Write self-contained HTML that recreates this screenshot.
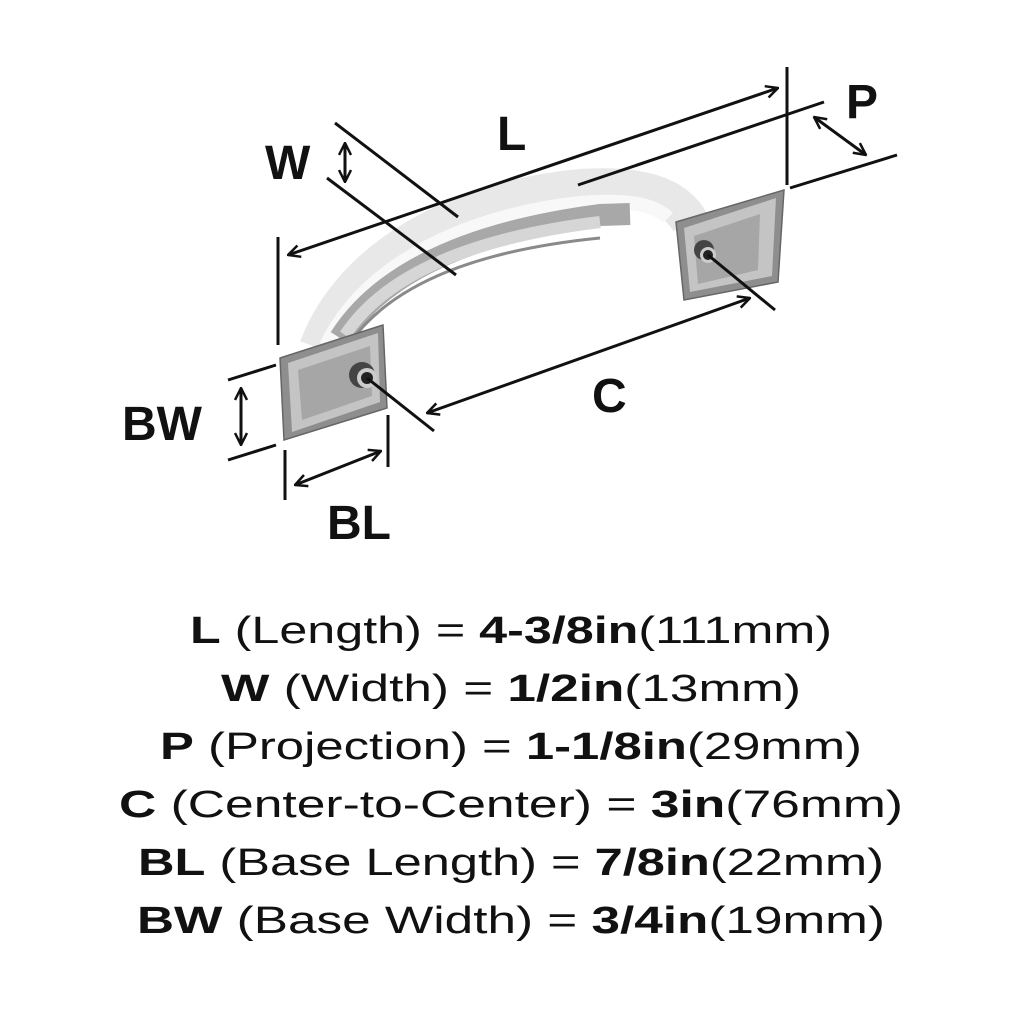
<!DOCTYPE html>
<html><head><style>
html,body{margin:0;padding:0;background:#fff;}
svg{display:block;}
text{font-family:"Liberation Sans",sans-serif;fill:#111;}
</style></head><body>
<svg width="1024" height="1024" viewBox="0 0 1024 1024">
<defs>
<marker id="a" viewBox="0 0 14 14" refX="13" refY="7" markerWidth="14" markerHeight="14" markerUnits="userSpaceOnUse" orient="auto-start-reverse">
<path d="M1,1 L13,7 L1,13" fill="none" stroke="#111" stroke-width="2.5"/>
</marker>
<linearGradient id="b" x1="0" y1="0" x2="1" y2="1">
<stop offset="0" stop-color="#8a8a8a"/><stop offset="1" stop-color="#b0b0b0"/>
</linearGradient>
</defs>
<!-- handle arc -->
<path d="M318,348 C355,250 470,198 580,188 C640,184 675,195 690,222" fill="none" stroke="#e8e8e8" stroke-width="38"/>
<path d="M326,346 C365,262 470,215 580,203 C630,199 655,205 668,218" fill="none" stroke="#f8f8f8" stroke-width="14"/>
<path d="M340,338 C382,272 470,232 600,215 L630,214" fill="none" stroke="#a8a8a8" stroke-width="22"/>
<path d="M345,335 C385,275 470,238 600,222" fill="none" stroke="#d6d6d6" stroke-width="12"/>
<path d="M352,340 C395,282 480,250 600,238" fill="none" stroke="#8a8a8a" stroke-width="3"/>
<!-- left base -->
<polygon points="280,358 383,325 387,408 284,440" fill="#8e8e8e" stroke="#666" stroke-width="1.5"/>
<polygon points="288,363 378,333 380,402 292,432" fill="#c4c4c4"/>
<polygon points="298,370 370,346 372,396 302,420" fill="#a6a6a6"/>
<circle cx="362" cy="375" r="13" fill="#444"/>
<circle cx="367" cy="378" r="10" fill="#ccc"/><circle cx="367" cy="378" r="6" fill="#222"/>
<!-- right base -->
<polygon points="676,222 784,190 778,282 684,300" fill="#8e8e8e" stroke="#666" stroke-width="1.5"/>
<polygon points="684,228 776,198 772,276 690,292" fill="#c4c4c4"/>
<polygon points="694,236 760,214 758,270 698,284" fill="#a6a6a6"/>
<circle cx="704" cy="250" r="10" fill="#444"/>
<circle cx="708" cy="255" r="8" fill="#ccc"/><circle cx="708" cy="255" r="5" fill="#222"/>
<!-- dimension lines -->
<g stroke="#111" stroke-width="3" fill="none">
<line x1="288" y1="255" x2="778" y2="88" marker-start="url(#a)" marker-end="url(#a)"/>
<line x1="278" y1="237" x2="278" y2="345"/>
<line x1="787" y1="67" x2="787" y2="185"/>
<line x1="335" y1="123" x2="458" y2="217"/>
<line x1="327" y1="178" x2="456" y2="275"/>
<line x1="345" y1="143" x2="345" y2="182" marker-start="url(#a)" marker-end="url(#a)"/>
<line x1="578" y1="185" x2="824" y2="102"/>
<line x1="790" y1="188" x2="897" y2="155"/>
<line x1="814" y1="117" x2="866" y2="155" marker-start="url(#a)" marker-end="url(#a)"/>
<line x1="427" y1="413" x2="750" y2="298" marker-start="url(#a)" marker-end="url(#a)"/>
<line x1="367" y1="378" x2="434" y2="431"/>
<line x1="708" y1="255" x2="775" y2="310"/>
<line x1="228" y1="380" x2="276" y2="365"/>
<line x1="228" y1="460" x2="276" y2="445"/>
<line x1="241" y1="388" x2="241" y2="445" marker-start="url(#a)" marker-end="url(#a)"/>
<line x1="285" y1="450" x2="285" y2="500"/>
<line x1="388" y1="415" x2="388" y2="467"/>
<line x1="295" y1="485" x2="381" y2="451" marker-start="url(#a)" marker-end="url(#a)"/>
</g>
<g font-size="48" font-weight="bold">
<text x="497" y="150">L</text>
<text x="265" y="179">W</text>
<text x="846" y="118">P</text>
<text x="592" y="412">C</text>
<text x="122" y="440">BW</text>
<text x="327" y="539">BL</text>
</g>
<g font-size="38" text-anchor="middle">
<text x="511" y="643" textLength="642" lengthAdjust="spacingAndGlyphs"><tspan font-weight="bold">L</tspan> (Length) = <tspan font-weight="bold">4-3/8in</tspan>(111mm)</text>
<text x="511" y="701" textLength="580" lengthAdjust="spacingAndGlyphs"><tspan font-weight="bold">W</tspan> (Width) = <tspan font-weight="bold">1/2in</tspan>(13mm)</text>
<text x="511" y="759" textLength="702" lengthAdjust="spacingAndGlyphs"><tspan font-weight="bold">P</tspan> (Projection) = <tspan font-weight="bold">1-1/8in</tspan>(29mm)</text>
<text x="511" y="817" textLength="784" lengthAdjust="spacingAndGlyphs"><tspan font-weight="bold">C</tspan> (Center-to-Center) = <tspan font-weight="bold">3in</tspan>(76mm)</text>
<text x="511" y="875" textLength="746" lengthAdjust="spacingAndGlyphs"><tspan font-weight="bold">BL</tspan> (Base Length) = <tspan font-weight="bold">7/8in</tspan>(22mm)</text>
<text x="511" y="933" textLength="748" lengthAdjust="spacingAndGlyphs"><tspan font-weight="bold">BW</tspan> (Base Width) = <tspan font-weight="bold">3/4in</tspan>(19mm)</text>
</g>
</svg>
</body></html>
